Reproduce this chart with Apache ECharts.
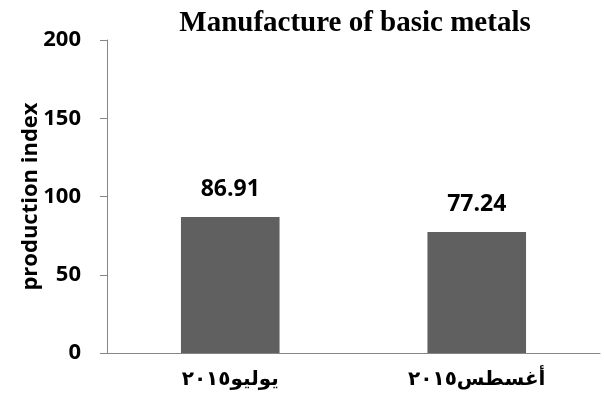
<!DOCTYPE html>
<html><head><meta charset="utf-8">
<script src="https://cdn.jsdelivr.net/npm/echarts@6/dist/echarts.min.js"></script>
<style>html,body{margin:0;padding:0;background:#fff}#c{width:604px;height:403px}</style>
</head><body><div id="c"></div>
<script>
const categories = ['يوليو٢٠١٥', 'أغسطس٢٠١٥'];
const values = [86.91, 77.24];
const yTicks = {min: 0, max: 200, interval: 50};
const chart = echarts.init(document.getElementById('c'));
const sans = '"Open Sans", "Liberation Sans", sans-serif';
chart.setOption({
  animation: false,
  title: {text: 'Manufacture of basic metals', left: 350, textAlign: 'center', top: 4,
    textStyle: {fontFamily: '"Liberation Serif", "Times New Roman", serif', fontWeight: 700, fontSize: 29, color: '#000'}},
  grid: {left: 107, right: 4, top: 40, bottom: 50},
  xAxis: {type: 'category', data: categories,
    axisLine: {lineStyle: {color: '#868686'}},
    axisTick: {lineStyle: {color: '#868686'}, length: 7},
    axisLabel: {fontFamily: '"DejaVu Sans", "Noto Sans", sans-serif', fontWeight: 700, fontSize: 20, color: '#000', margin: 17}},
  yAxis: {type: 'value', min: yTicks.min, max: yTicks.max, interval: yTicks.interval,
    name: 'production index', nameLocation: 'middle', nameGap: 76, nameRotate: 90,
    nameMoveOverlap: false,
    nameTextStyle: {fontFamily: sans, fontWeight: 700, fontSize: 22, color: '#000', verticalAlign: 'middle'},
    axisLine: {show: true, lineStyle: {color: '#868686'}},
    axisTick: {show: true, lineStyle: {color: '#868686'}, length: 7},
    splitLine: {show: false},
    axisLabel: {fontFamily: sans, fontWeight: 700, fontSize: 22, color: '#000', margin: 26}},
  series: [{type: 'bar', data: values, barWidth: '40%',
    itemStyle: {color: '#606060'},
    label: {show: true, position: 'top', distance: 16, fontFamily: sans, fontWeight: 700, fontSize: 23, color: '#000'}}]
});
</script></body></html>
